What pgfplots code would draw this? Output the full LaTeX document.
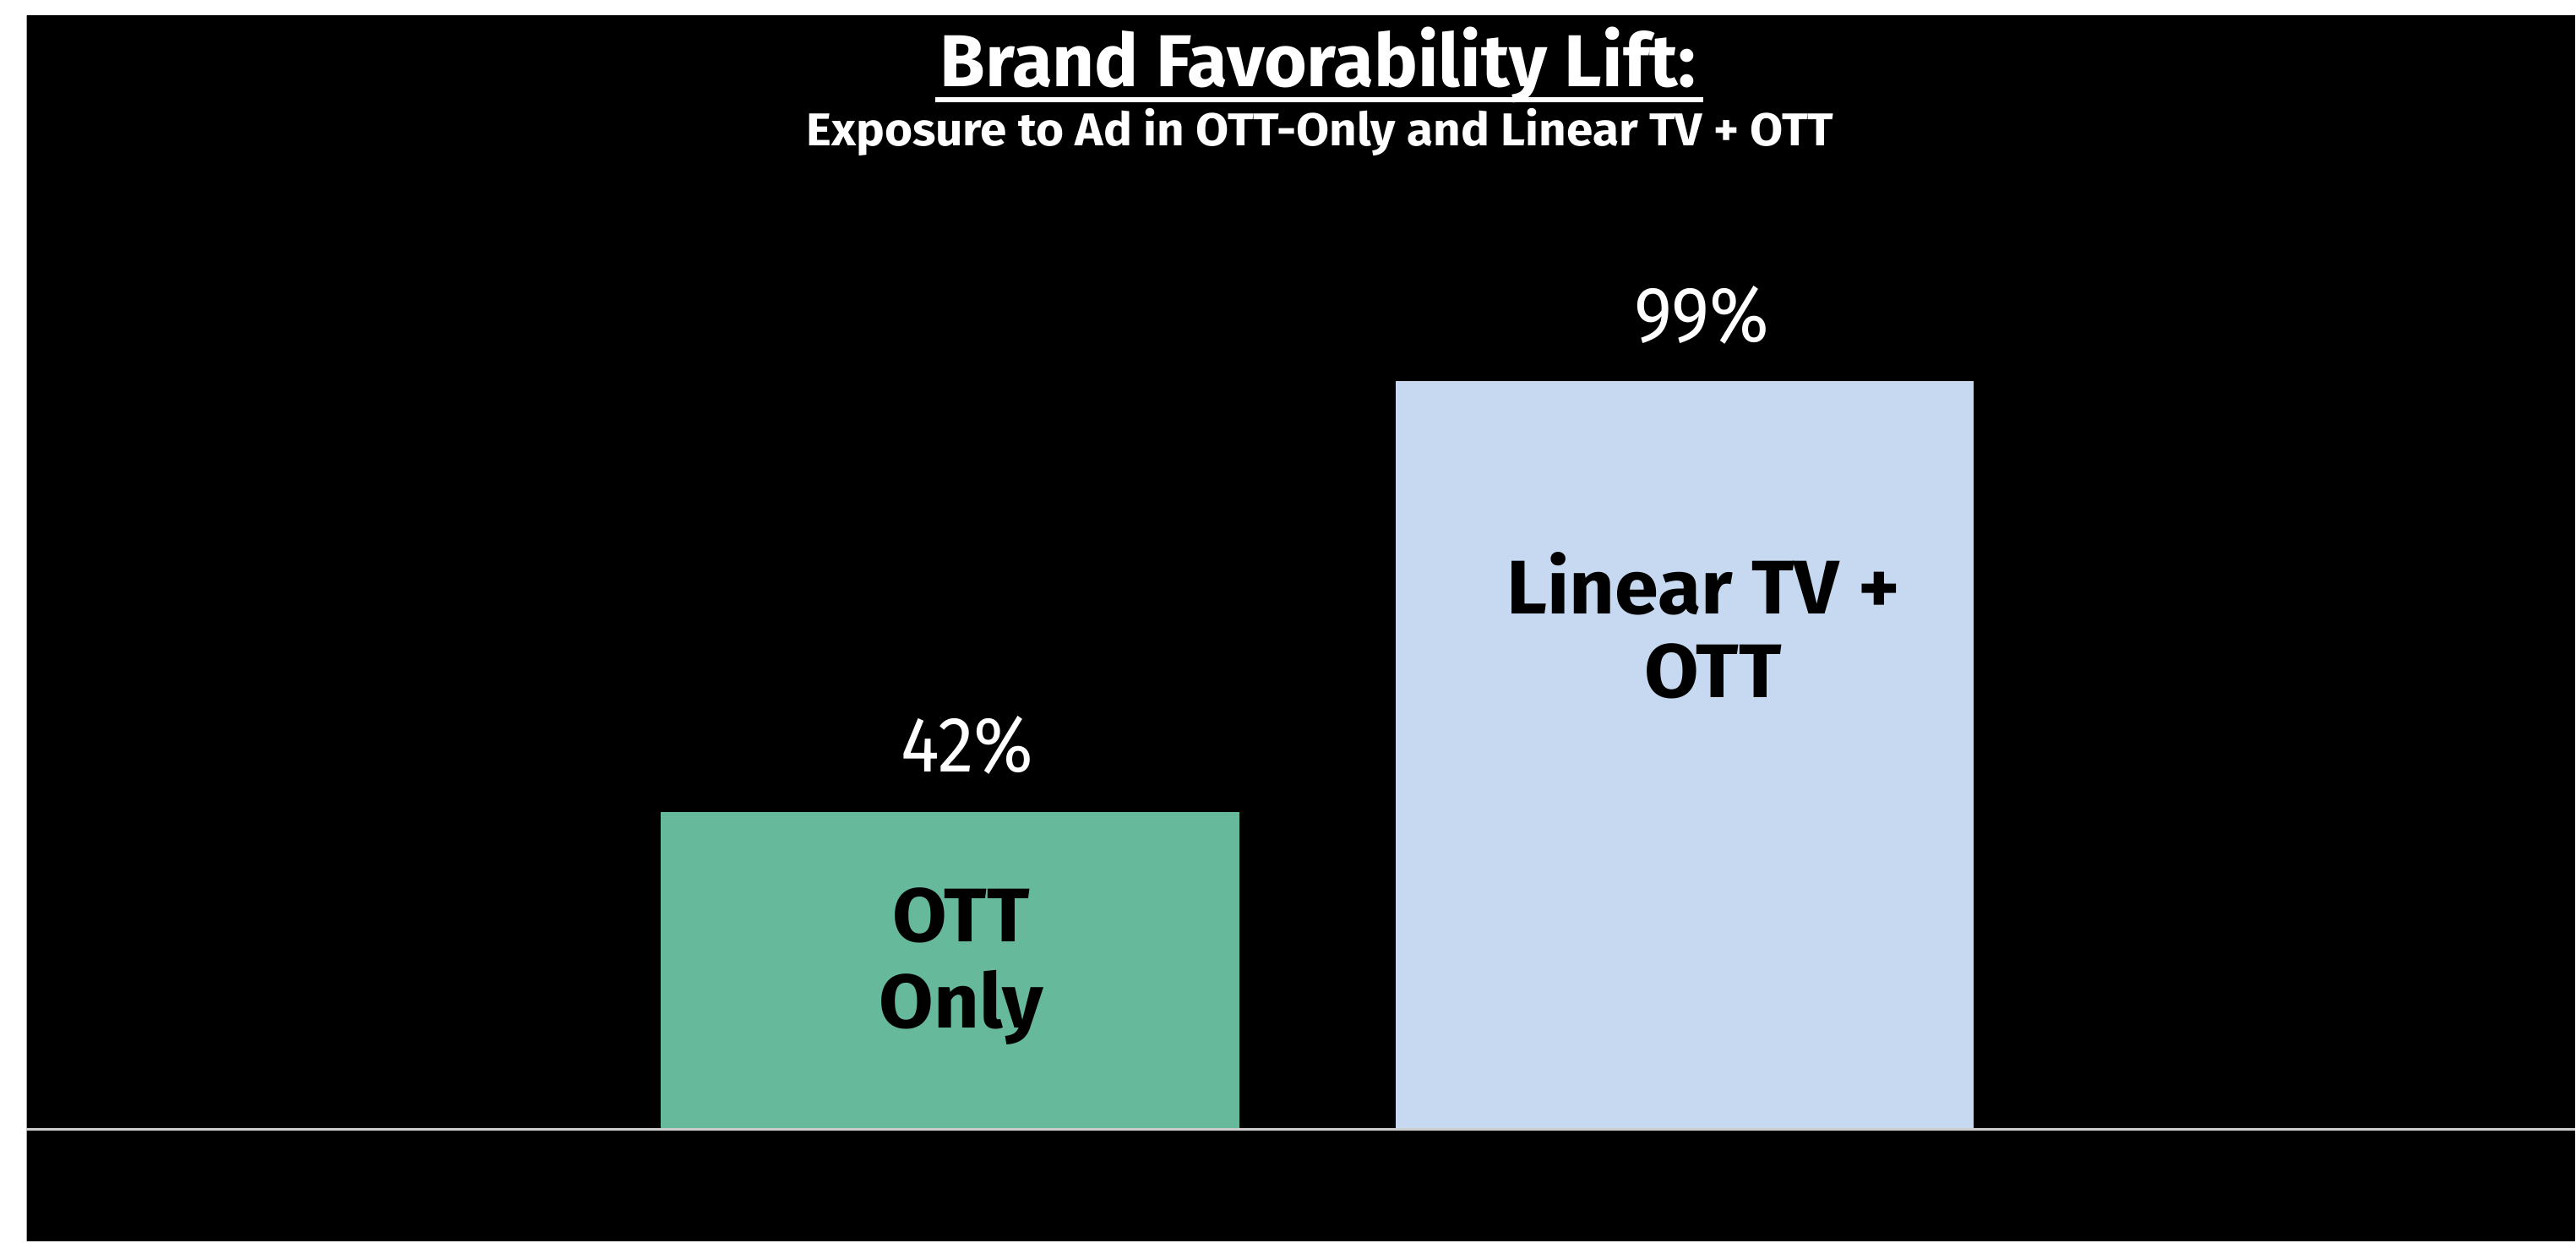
\documentclass[border=0pt]{standalone}
\usepackage{pgfplots}
\pgfplotsset{compat=1.18}
\usepackage{fontspec}
\setmainfont{Fira Sans}
\newfontfamily\widefont{Fira Sans}[FakeStretch=1.04]
\newfontfamily\pctfont{Fira Sans}[FakeStretch=0.92]
\definecolor{barA}{RGB}{103,185,155}
\definecolor{barB}{RGB}{198,217,241}
\definecolor{baseln}{RGB}{205,205,205}
\begin{document}
\begin{tikzpicture}
\fill[white] (0pt,0pt) rectangle (609.8pt,294pt);
\fill[black] (6.2pt,0pt) rectangle (609.8pt,290.4pt);
\draw[gray!70, line width=0.3pt] (6.35pt,0pt) -- (6.35pt,290.4pt);
\begin{axis}[at={(6.2pt,26.6pt)}, anchor=south west, scale only axis,
  width=603.6pt, height=263.8pt,
  xmin=-1.2575, xmax=2.2115, ymin=0, ymax=147.37,
  hide axis, clip=false]
\addplot[ybar, bar shift=0pt, bar width=0.787, fill=barA, draw=none] coordinates {(0,42)};
\addplot[ybar, bar shift=0pt, bar width=0.787, fill=barB, draw=none] coordinates {(1,99)};
\draw[baseln, line width=0.5pt] (axis cs:-1.2575,0) -- (axis cs:2.2115,0);
\node[anchor=base, inner sep=0, text=white, font=\pctfont\fontsize{18.6}{20}\selectfont] at (axis cs:0.023,47.3) {42\%};
\node[anchor=base, inner sep=0, text=white, font=\pctfont\fontsize{18.6}{20}\selectfont] at (axis cs:1.023,104.2) {99\%};
\node[anchor=base, inner sep=0, text=black, font=\widefont\bfseries\fontsize{18}{20}\selectfont] at (axis cs:0.015,24.8) {OTT};
\node[anchor=base, inner sep=0, text=black, font=\widefont\bfseries\fontsize{18}{20}\selectfont] at (axis cs:0.015,13.4) {Only};
\node[anchor=base, inner sep=0, text=black, font=\widefont\bfseries\fontsize{18}{20}\selectfont] at (axis cs:1.025,68.2) {Linear TV +};
\node[anchor=base, inner sep=0, text=black, font=\widefont\bfseries\fontsize{18}{20}\selectfont] at (axis cs:1.038,57.1) {OTT};
\end{axis}
\node[anchor=base, inner sep=0, text=white, font=\bfseries\fontsize{17.4}{20}\selectfont] (t) at (312.1pt,273.4pt) {Brand Favorability Lift:};
\draw[white, line width=1.2pt] ([xshift=-1pt,yshift=-3pt]t.base west) -- ([xshift=1.6pt,yshift=-3pt]t.base east);
\node[anchor=base, inner sep=0, text=white, font=\widefont\bfseries\fontsize{10.9}{12}\selectfont] at (312.6pt,259.4pt) {Exposure to Ad in OTT-Only and Linear TV + OTT};
\end{tikzpicture}
\end{document}
